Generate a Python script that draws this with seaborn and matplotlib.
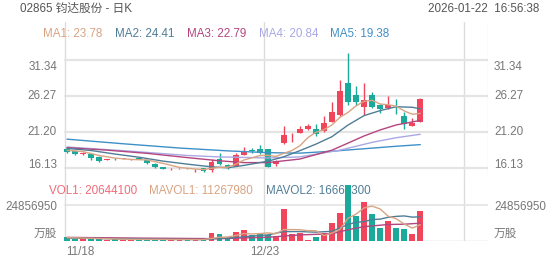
import numpy as np
import pandas as pd
import matplotlib
matplotlib.use("Agg")
import matplotlib.pyplot as plt
from matplotlib import transforms
import seaborn as sns

# ---------------- data ----------------
date_labels = ["11/18", "12/23"]
date_index = [0, 25]

opens = [18.72, 18.48, 18.02, 18.02, 17.68, 17.28, 17.35, 17.41, 17.29, 17.47,
         17.25, 16.72, 16.19, 15.93, 15.94, 15.96, 15.80, 16.05, 15.74, 17.35,
         16.51, 16.41, 17.92, 18.55, 18.72, 18.72, 16.61, 19.65, 20.40, 21.06,
         21.54, 21.58, 21.30, 22.61, 23.55, 28.10, 26.37, 24.72, 26.37, 24.96,
         24.50, 24.38, 23.41, 22.00, 22.61]
highs = [19.09, 18.60, 18.35, 18.10, 17.75, 17.40, 17.50, 17.55, 17.40, 17.52,
         17.30, 16.78, 16.25, 16.05, 16.05, 16.02, 15.95, 16.10, 17.31, 18.16,
         16.60, 18.24, 19.09, 18.86, 19.33, 18.80, 17.15, 22.00, 21.06, 22.00,
         22.28, 22.28, 23.41, 25.43, 28.48, 32.24, 27.64, 28.10, 26.75, 25.05,
         26.27, 25.81, 23.93, 23.13, 25.95]
lows = [18.20, 17.95, 17.95, 17.21, 16.89, 17.18, 17.15, 17.35, 17.22, 17.35,
        16.70, 16.05, 15.90, 15.85, 15.88, 15.88, 15.55, 15.55, 15.52, 16.50,
        15.95, 16.30, 17.85, 18.16, 18.10, 16.20, 16.37, 19.50, 19.79, 21.00,
        21.45, 20.59, 21.20, 22.50, 23.40, 24.96, 24.96, 23.55, 24.50, 23.79,
        24.40, 23.69, 21.54, 21.95, 22.50]
closes = [18.30, 18.06, 18.24, 17.45, 17.07, 17.33, 17.30, 17.45, 17.33, 17.42,
          16.75, 16.19, 15.95, 15.97, 15.98, 15.94, 15.85, 15.60, 16.89, 16.61,
          16.05, 17.92, 18.52, 18.50, 18.16, 16.27, 17.07, 20.74, 20.45, 21.58,
          22.00, 20.83, 22.47, 23.93, 26.93, 25.43, 25.43, 25.66, 24.64, 24.35,
          24.96, 24.33, 22.28, 22.38, 25.81]
# volume in millions of shares
volumes = [2.6, 1.3, 1.9, 1.2, 1.3, 1.0, 1.1, 0.9, 1.0, 0.9,
           1.2, 1.3, 1.1, 0.9, 1.0, 0.8, 0.9, 1.2, 5.3, 4.6,
           1.9, 6.0, 7.6, 4.4, 5.8, 4.3, 3.0, 21.9, 4.6, 5.3,
           0.7, 3.0, 5.3, 12.6, 19.1, 38.7, 17.5, 26.7, 18.6, 8.8,
           14.0, 8.8, 8.3, 4.6, 20.644]

# moving-average lines (read at selected candles)
ma1_idx = [0, 2, 4, 6, 8, 10, 12, 14, 16, 17, 18, 19, 20, 21, 22, 23, 24, 25, 26, 27,
           28, 29, 30, 31, 32, 33, 34, 35, 36, 37, 38, 39, 40, 41, 42, 43, 44]
ma1_val = [18.58, 18.40, 17.85, 17.48, 17.29, 17.22, 16.73, 16.17, 15.94, 15.87, 16.05,
           16.18, 16.20, 16.61, 17.20, 17.52, 17.83, 17.88, 17.71, 18.15, 18.54, 19.22,
           20.37, 21.12, 21.47, 22.16, 23.23, 23.92, 24.84, 25.48, 25.62, 25.10, 25.00,
           24.79, 24.12, 23.66, 23.78]
ma2_idx = [0, 3, 6, 9, 12, 15, 18, 20, 22, 25, 27, 29, 31, 33, 35, 37, 39, 41, 43, 44]
ma2_val = [18.85, 18.55, 18.05, 17.60, 17.05, 16.63, 16.25, 16.12, 16.45, 17.04, 17.67,
           18.53, 19.45, 20.50, 22.14, 23.47, 24.17, 24.72, 24.64, 24.41]
ma3_idx = [0, 5, 10, 15, 19, 22, 25, 29, 33, 35, 37, 39, 41, 44]
ma3_val = [18.95, 18.60, 18.15, 17.55, 17.10, 16.85, 16.85, 17.35, 18.60, 19.60, 20.60,
           21.45, 22.15, 22.79]
ma4_idx = [0, 8, 15, 19, 25, 29, 34, 38, 41, 44]
ma4_val = [19.05, 18.45, 17.85, 17.65, 17.50, 17.65, 18.60, 19.70, 20.35, 20.84]
ma5_idx = [0, 7, 14, 20, 25, 29, 33, 37, 41, 44]
ma5_val = [20.15, 19.50, 18.90, 18.50, 18.25, 18.18, 18.45, 18.80, 19.15, 19.38]

mavol1_idx = [0, 4, 8, 12, 16, 17, 18, 19, 20, 21, 22, 23, 24, 25, 26, 27, 28, 29, 30,
              31, 32, 33, 34, 35, 36, 37, 38, 39, 40, 41, 42, 43, 44]
mavol1_val = [2.3, 1.7, 1.1, 1.1, 1.0, 1.0, 1.8, 2.6, 2.8, 3.8, 5.1, 4.9, 5.1, 5.6, 5.0,
              7.9, 7.9, 7.8, 7.1, 7.1, 3.8, 5.4, 8.1, 15.7, 18.6, 22.9, 24.1, 22.1, 17.1,
              15.4, 11.7, 8.9, 11.268]
mavol2_idx = [0, 5, 9, 13, 17, 19, 21, 23, 25, 27, 29, 31, 33, 35, 36, 37, 38, 39, 40,
              41, 42, 43, 44]
mavol2_val = [2.0, 1.6, 1.3, 1.1, 1.0, 1.8, 2.4, 3.4, 4.2, 6.5, 6.5, 6.1, 6.7, 11.4, 12.9,
              13.4, 14.8, 15.1, 16.4, 17.0, 17.3, 16.5, 16.664]
mavol3_idx = [0, 9, 19, 25, 29, 33, 35, 37, 40, 42, 44]
mavol3_val = [2.5, 2.0, 1.6, 2.6, 4.2, 5.0, 7.8, 9.9, 11.4, 11.6, 12.3]

price_ticks = [16.13, 21.20, 26.27, 31.34]
price_tick_labels = ["16.13", "21.20", "26.27", "31.34"]
vol_tick = 24.85695
vol_tick_label = "24856950"
vol_unit = "万股"

header_left = "02865 钧达股份 - 日K"
header_right = "2026-01-22  16:56:38"
ma_legend = ["MA1: 23.78", "MA2: 24.41", "MA3: 22.79", "MA4: 20.84", "MA5: 19.38"]
vol_legend = ["VOL1: 20644100", "MAVOL1: 11267980", "MAVOL2: 16664300"]

# ---------------- styling ----------------
RED = "#f1455c"
GREEN = "#1aa99a"
C_MA1 = "#d8a482"
C_MA2 = "#4f7d97"
C_MA3 = "#b3467f"
C_MA4 = "#aaa8e4"
C_MA5 = "#3f90c8"
C_VOL = "#ef6c79"
GRID = "#e4e4e4"
VGRID = "#dcdcdc"
TXT = "#777777"

sns.set_theme(style="white")
plt.rcParams["font.family"] = ["Liberation Sans", "Noto Sans CJK SC", "DejaVu Sans"]

W, H = 552, 265
fig = plt.figure(figsize=(W / 100, H / 100), dpi=100)
fig.patch.set_facecolor("white")


def rect(x0, y0, x1, y1):
    return [x0 / W, 1 - y1 / H, (x1 - x0) / W, (y1 - y0) / H]


ax = fig.add_axes(rect(64, 22, 488, 178))
axv = fig.add_axes(rect(64, 178, 488, 241))

X0, DX = 67.0, 8.03
xlim = ((64 - X0) / DX, (488 - X0) / DX)
for a in (ax, axv):
    a.set_xlim(*xlim)
    a.set_facecolor("none")
    for s in a.spines.values():
        s.set_visible(False)
    a.grid(False)

ax.set_ylim(21.2 - (178 - 131.7) / 7.1, 21.2 + (131.7 - 22) / 7.1)
axv.set_ylim(0, vol_tick * 63 / 36)

# vertical grid lines (slot boundaries at the date ticks)
vlines_px = [64.5, 264.5, 464.5]
for a in (ax, axv):
    for xp in vlines_px:
        a.axvline((xp - X0) / DX, color=VGRID, lw=1, zorder=0)
ax.axvline((488 - X0) / DX, color="#ececec", lw=1, zorder=0)

for v in price_ticks:
    ax.axhline(v, color=GRID, lw=1.6, zorder=0)
axv.axhline(vol_tick, color=GRID, lw=1.2, zorder=0)
axv.axhline(0, color="#d4d4d4", lw=1.0, zorder=0)

# candles
o = np.array(opens); c = np.array(closes); h = np.array(highs); l = np.array(lows)
idx = np.arange(len(o))
up = c >= o
cols = np.where(up, RED, GREEN)
ax.vlines(idx, l, h, colors=cols, lw=1.0, zorder=3)
ax.bar(idx, np.maximum(np.abs(c - o), 0.07), bottom=np.minimum(o, c), width=0.72,
       color=cols, linewidth=0, zorder=4)

# MA lines
for xi, yi, col in [(ma5_idx, ma5_val, C_MA5), (ma4_idx, ma4_val, C_MA4),
                    (ma3_idx, ma3_val, C_MA3), (ma2_idx, ma2_val, C_MA2),
                    (ma1_idx, ma1_val, C_MA1)]:
    sns.lineplot(x=xi, y=yi, ax=ax, color=col, lw=1.0, legend=False, sort=False,
                 zorder=5)

# volume
axv.bar(idx, volumes, width=0.72, color=cols, linewidth=0, zorder=3)
for xi, yi, col in [(mavol3_idx, mavol3_val, C_MA3), (mavol2_idx, mavol2_val, C_MA2),
                    (mavol1_idx, mavol1_val, C_MA1)]:
    sns.lineplot(x=xi, y=yi, ax=axv, color=col, lw=1.0, legend=False, sort=False,
                 zorder=4)

for a in (ax, axv):
    a.set_xlabel("")
    a.set_ylabel("")
    a.set_xticks([])
    a.set_yticks([])

FS = 8.4


def ftext(xp, yp, s, **kw):
    fig.text(xp / W, 1 - yp / H, s, fontsize=kw.pop("fontsize", FS), **kw)


# header
ftext(20, 9, header_left, color="#555555", va="center", ha="left")
ftext(539, 9, header_right, color="#555555", va="center", ha="right")

# MA legend
for s, xp, col in zip(ma_legend, [43, 115, 187, 259, 330],
                      [C_MA1, C_MA2, C_MA3, C_MA4, C_MA5]):
    ftext(xp, 34, s, color=col, va="center", ha="left")

# volume legend (under the bars)
for s, xp, col in zip(vol_legend, [49, 149, 266], [C_VOL, C_MA1, C_MA2]):
    axv.text(xp / W, 1 - 191 / H, s, transform=fig.transFigure, fontsize=FS,
             color=col, va="center", ha="left", zorder=1)

# y labels (both sides)
tp = transforms.blended_transform_factory(fig.transFigure, ax.transData)
tv = transforms.blended_transform_factory(fig.transFigure, axv.transData)
for v, s in zip(price_ticks, price_tick_labels):
    if v == max(price_ticks):
        va, off = "top", -1
    elif v == min(price_ticks):
        va, off = "center", 3
    else:
        va, off = "center", 0
    for xp, ha in [(57, "right"), (494, "left")]:
        tr = transforms.offset_copy(tp, fig=fig, x=0, y=off, units="dots")
        fig.text(xp / W, v, s, transform=tr, fontsize=FS, color=TXT, va=va, ha=ha)

for xp, ha in [(57, "right"), (494, "left")]:
    tr = transforms.offset_copy(tv, fig=fig, x=0, y=-2, units="dots")
    fig.text(xp / W, vol_tick, vol_tick_label, transform=tr, fontsize=FS, color=TXT,
             va="center", ha=ha)
    tr2 = transforms.offset_copy(tv, fig=fig, x=0, y=1, units="dots")
    fig.text(xp / W, 0, vol_unit, transform=tr2, fontsize=FS, color=TXT,
             va="bottom", ha=ha)

# date labels
for di, s in zip(date_index, date_labels):
    if di == 0:
        ftext(66, 252, s, color=TXT, va="center", ha="left")
    else:
        ftext(X0 + DX * di - 3, 252, s, color=TXT, va="center", ha="center")

fig.savefig("out.png", dpi=100, facecolor="white")
